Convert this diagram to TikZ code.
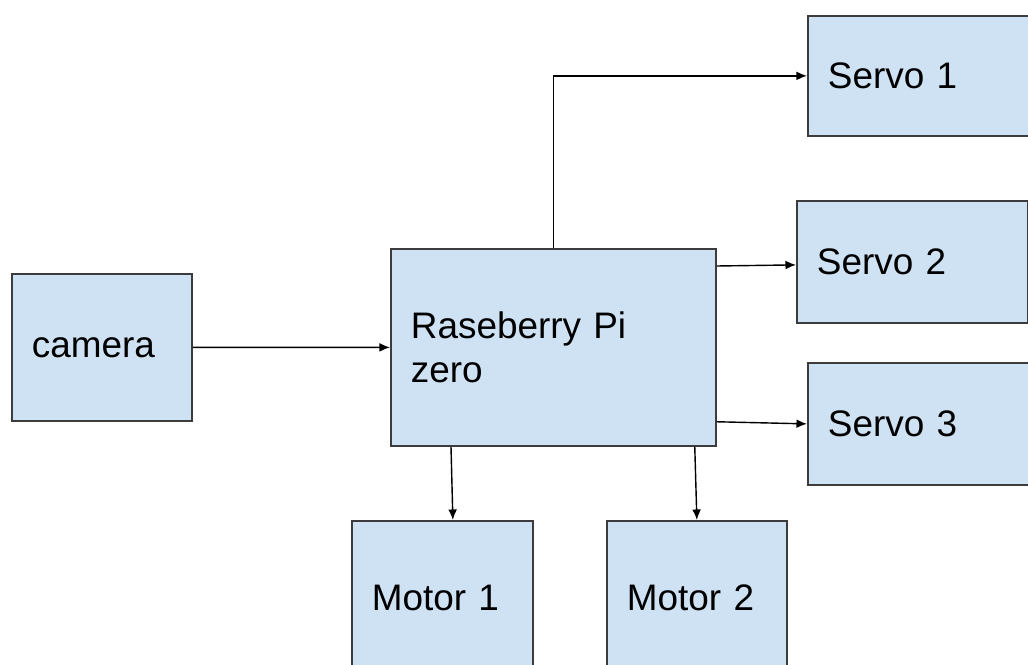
\documentclass[tikz,border=0pt]{standalone}
\usepackage{fontspec}
\setmainfont{Liberation Sans}
\usepackage{tikz}
\usetikzlibrary{arrows.meta}
\definecolor{boxblue}{RGB}{207,226,243}
\definecolor{edge}{RGB}{60,60,60}

\begin{document}
\begin{tikzpicture}[every node/.style={font=\fontsize{21}{25}\selectfont,align=left},
    blk/.style={draw=edge,fill=boxblue,line width=1pt,anchor=north west,inner xsep=0.4cm,inner ysep=0pt},
    arr/.style={-{Latex[length=6pt,width=5pt]},line width=0.8pt}]
    \useasboundingbox (0,0) rectangle (20.56,-13.28);
    \node[blk,text width=2.8cm,minimum height=2.94cm] (cam) at (0.22,-5.46){camera};
    \node[blk,text width=5.7cm,minimum height=3.94cm] (pi) at (7.8,-4.96){Raseberry Pi\\zero};
    \node[blk,text width=3.8cm,minimum height=2.4cm] (s1) at (16.14,-0.3){Servo 1};
    \node[blk,text width=3.82cm,minimum height=2.44cm] (s2) at (15.92,-4.0){Servo 2};
    \node[blk,text width=3.8cm,minimum height=2.44cm] (s3) at (16.14,-7.24){Servo 3};
    \node[blk,text width=2.82cm,minimum height=3.08cm] (m1) at (7.02,-10.4){Motor 1};
    \node[blk,text width=2.8cm,minimum height=3.08cm] (m2) at (12.12,-10.4){Motor 2};
    \draw[arr] (cam.east)--(pi.west);
    \draw[arr] (pi.north) |- (s1.west);
    \draw[arr] ([yshift=-0.36cm]pi.north east)--([yshift=-0.06cm]s2.west);
    \draw[arr] ([yshift=0.5cm]pi.south east)--(s3.west);
    \draw[arr] ([xshift=1.22cm]pi.south west)--([xshift=0.21cm]m1.north);
    \draw[arr] ([xshift=-0.44cm]pi.south east)--(m2.north);
  \end{tikzpicture}
\end{document}
